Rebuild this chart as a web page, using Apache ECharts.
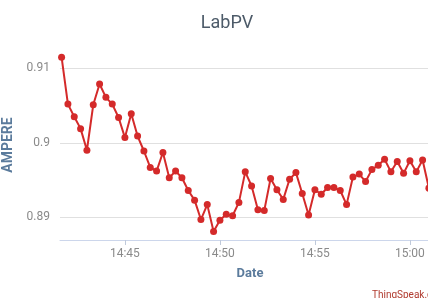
<!DOCTYPE html>
<html>
<head>
<meta charset="utf-8">
<script src="https://cdn.jsdelivr.net/npm/echarts@6/dist/echarts.min.js"></script>
<style>
  html, body { margin: 0; padding: 0; background: #fff; }
  #chart { width: 428px; height: 298px; }
</style>
</head>
<body>
<div id="chart"></div>
<script>
  // sample times (one every 20 s) and readings
  const times = [
    '14:41:40', '14:42:00', '14:42:20', '14:42:40', '14:43:00', '14:43:20', '14:43:40', '14:44:00',
    '14:44:20', '14:44:40', '14:45:00', '14:45:20', '14:45:40', '14:46:00', '14:46:20', '14:46:40',
    '14:47:00', '14:47:20', '14:47:40', '14:48:00', '14:48:20', '14:48:40', '14:49:00', '14:49:20',
    '14:49:40', '14:50:00', '14:50:20', '14:50:40', '14:51:00', '14:51:20', '14:51:40', '14:52:00',
    '14:52:20', '14:52:40', '14:53:00', '14:53:20', '14:53:40', '14:54:00', '14:54:20', '14:54:40',
    '14:55:00', '14:55:20', '14:55:40', '14:56:00', '14:56:20', '14:56:40', '14:57:00', '14:57:20',
    '14:57:40', '14:58:00', '14:58:20', '14:58:40', '14:59:00', '14:59:20', '14:59:40', '15:00:00',
    '15:00:20', '15:00:40', '15:01:00'
  ];
  const ampere = [
    0.9115, 0.9052, 0.9035, 0.9019, 0.8990, 0.9051, 0.9079, 0.9061,
    0.9052, 0.9034, 0.9007, 0.9039, 0.9009, 0.8989, 0.8967, 0.8962,
    0.8987, 0.8953, 0.8962, 0.8953, 0.8936, 0.8923, 0.8897, 0.8917,
    0.8881, 0.8896, 0.8904, 0.8902, 0.8920, 0.8961, 0.8942, 0.8910,
    0.8909, 0.8952, 0.8937, 0.8924, 0.8951, 0.8960, 0.8932, 0.8903,
    0.8937, 0.8931, 0.8940, 0.8940, 0.8936, 0.8917, 0.8954, 0.8958,
    0.8948, 0.8964, 0.8970, 0.8978, 0.8961, 0.8975, 0.8959, 0.8976,
    0.8961, 0.8977, 0.8939
  ];
  const xTicks = ['14:45', '14:50', '14:55', '15:00'];
  const yTicks = [0.89, 0.9, 0.91];

  const day = '2020-01-01 ';
  const toTs = function (t) {
    return new Date((day + t).replace(' ', 'T')).getTime();
  };

  const chart = echarts.init(document.getElementById('chart'));
  chart.setOption({
    animation: false,
    title: [
      {
        text: 'LabPV',
        left: 222,
        top: 9,
        textAlign: 'center',
        textStyle: {fontFamily: 'Roboto', fontSize: 18, fontWeight: 'normal', color: '#4d5b69'}
      },
      {
        text: 'ThingSpeak.com',
        left: 367,
        top: 285,
        textStyle: {fontFamily: 'Roboto', fontSize: 10, fontWeight: 'normal', color: '#b03a2e'}
      }
    ],
    grid: {left: 60, right: -12, top: 50, bottom: 58, outerBoundsMode: 'none'},
    xAxis: {
      type: 'time',
      min: toTs('14:41:35'),
      max: toTs('15:01:35'),
      name: 'Date',
      nameLocation: 'middle',
      nameGap: 27,
      nameTextStyle: {fontFamily: 'Roboto', fontSize: 13, fontWeight: 'bold', color: '#5b7b9c'},
      axisLine: {lineStyle: {color: '#ccd6eb', width: 1}},
      axisTick: {show: true, length: 5, lineStyle: {color: '#c0cadb'}, customValues: xTicks.map(toTs)},
      axisLabel: {
        customValues: xTicks.map(toTs),
        formatter: '{HH}:{mm}',
        color: '#8a8a8a',
        fontFamily: 'Roboto',
        fontSize: 12,
        margin: 8
      },
      splitLine: {show: false}
    },
    yAxis: {
      type: 'value',
      min: 0.88695,
      max: 0.91246,
      name: 'AMPERE',
      nameLocation: 'middle',
      nameRotate: 90,
      nameGap: 42,
      nameTextStyle: {fontFamily: 'Roboto', fontSize: 14, fontWeight: 'bold', color: '#5b7b9c'},
      axisLine: {show: false},
      axisTick: {show: false, customValues: yTicks},
      axisLabel: {
        customValues: yTicks,
        color: '#8a8a8a',
        fontFamily: 'Roboto',
        fontSize: 12,
        margin: 10,
        formatter: function (v) { return String(Math.round(v * 1000) / 1000); }
      },
      splitLine: {show: true, lineStyle: {color: '#e0e0e0', width: 1}}
    },
    series: [{
      type: 'line',
      data: times.map(function (t, i) { return [toTs(t), ampere[i]]; }),
      symbol: 'circle',
      symbolSize: 7,
      showAllSymbol: true,
      clip: true,
      lineStyle: {color: '#d42a2a', width: 2},
      itemStyle: {color: '#d42a2a'}
    }]
  });
</script>
</body>
</html>
